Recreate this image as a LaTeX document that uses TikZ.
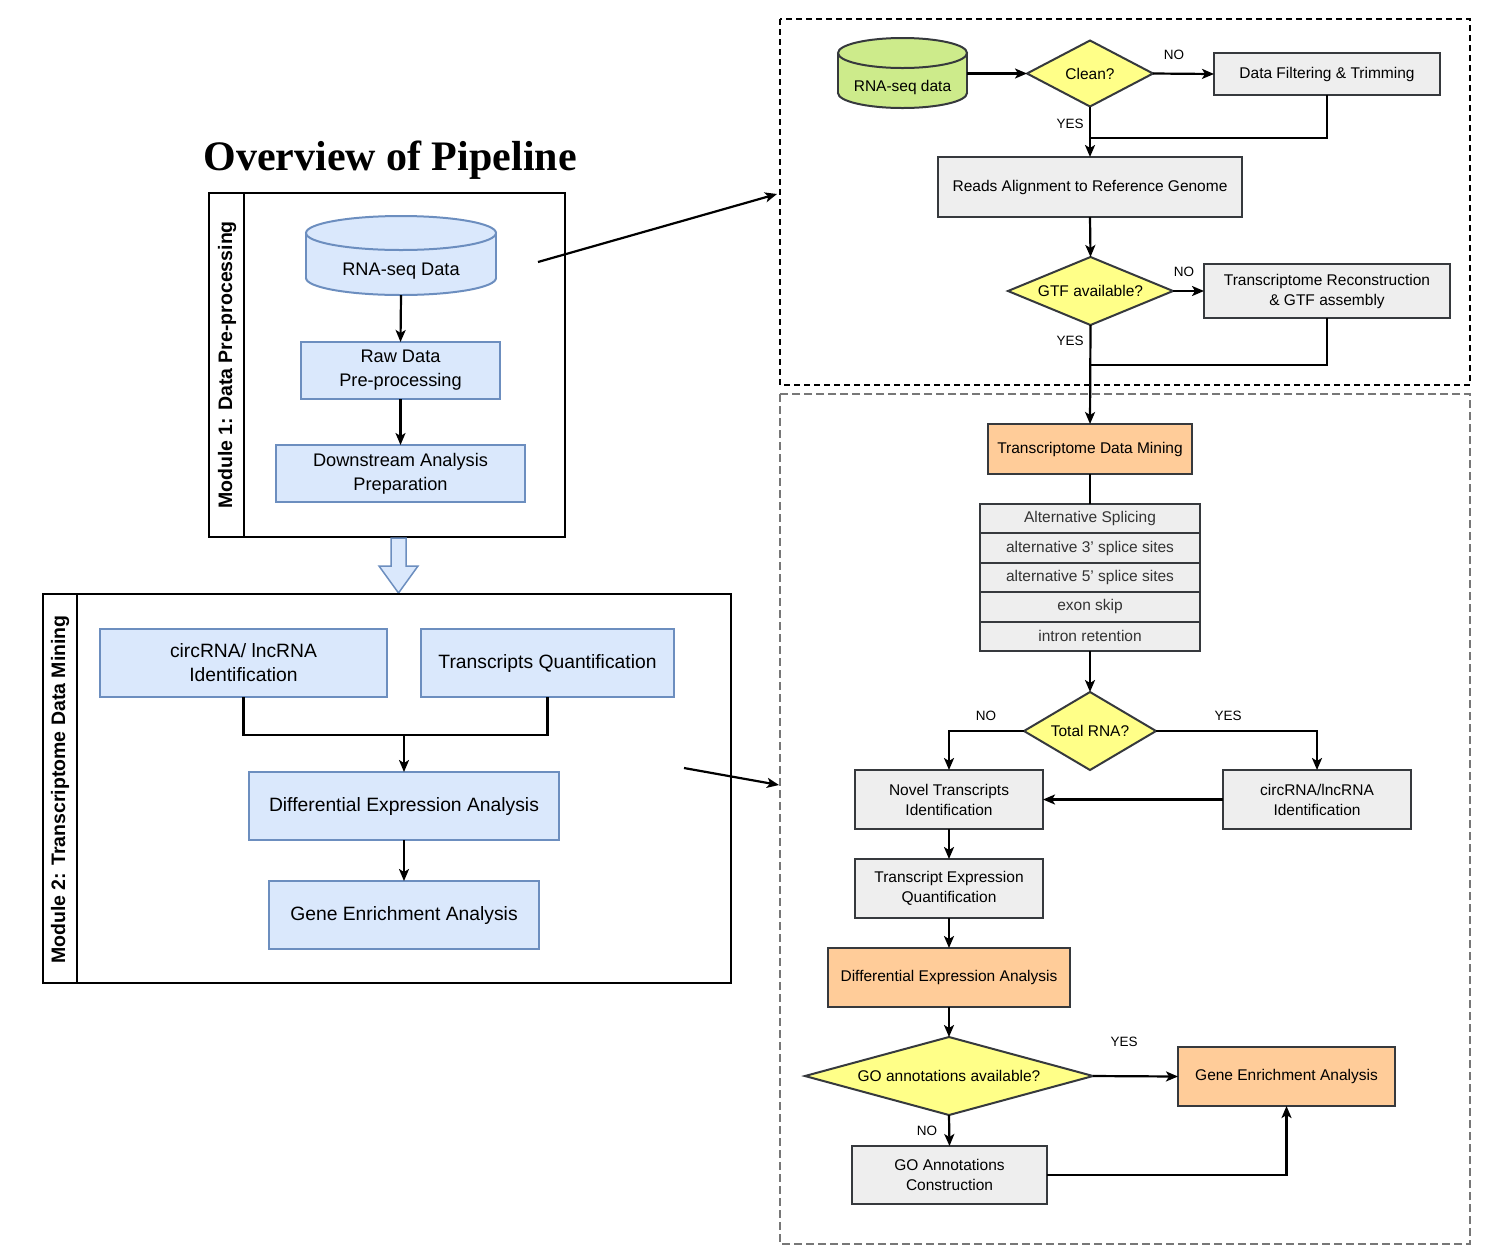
\documentclass[tikz,border=0pt]{standalone}
\usepackage{fontspec}
\setmainfont{Liberation Sans}
\newfontfamily\titlefont{Liberation Serif}
\usetikzlibrary{shapes.geometric,arrows.meta}
\definecolor{bfill}{HTML}{DAE8FC}
\definecolor{bstroke}{HTML}{6C8EBF}
\definecolor{gfill}{HTML}{EEEEEE}
\definecolor{dstroke}{HTML}{36393D}
\definecolor{yfill}{HTML}{FFFF88}
\definecolor{ofill}{HTML}{FFCC99}
\definecolor{grfill}{HTML}{CDEB8B}
\definecolor{txtgray}{HTML}{333333}
\definecolor{dashgray}{HTML}{777777}
\begin{document}
\begin{tikzpicture}[x=1pt,y=-1pt,
  every node/.style={outer sep=0pt, inner sep=2pt, align=center},
  bbox/.style={draw=bstroke, fill=bfill, line width=2pt, font=\fontsize{18.2}{24}\selectfont},
  bboxb/.style={bbox, font=\fontsize{19.3}{24}\selectfont},
  gbox/.style={draw=dstroke, fill=gfill, line width=2pt, font=\fontsize{15.5}{20}\selectfont},
  obox/.style={gbox, fill=ofill},
  tbox/.style={gbox, text=txtgray, minimum width=220pt, minimum height=29.4pt},
  dia/.style={diamond, draw=dstroke, fill=yfill, line width=2pt, font=\fontsize{15.5}{20}\selectfont, inner sep=0pt},
  lbl/.style={font=\fontsize{13.5}{16}\selectfont},
  modlbl/.style={rotate=90, font=\bfseries\fontsize{19.5}{24}\selectfont},
  conn/.style={line width=2.2pt, draw=black},
  arr/.style={conn, -{Stealth[length=12pt,width=10pt,inset=3pt]}},
  cylb/.style={draw=bstroke, fill=bfill, line width=2pt},
  cylg/.style={draw=dstroke, fill=grfill, line width=2pt},
]
\useasboundingbox (0,0) rectangle (1495,1254);
\fill[white] (0,0) rectangle (1495,1254);

% ---------- title ----------
\node[font=\titlefont\bfseries\fontsize{42}{48}\selectfont, anchor=base] (title) at (390,170) {Overview of Pipeline};

% ---------- Module 1 ----------
\node[draw, line width=2.5pt, minimum width=356pt, minimum height=344pt] (m1) at (387,365) {};
\draw[line width=2.5pt] (244,193) -- (244,537);
\node[modlbl] (m1lbl) at (227,365) {Module 1: Data Pre-processing};

% cylinder RNA-seq Data
\filldraw[cylb] (401,278) ellipse [x radius=95pt, y radius=17pt];
\fill[bfill] (306,233) rectangle (496,278);
\draw[bstroke, line width=2pt] (306,233) -- (306,278) (496,233) -- (496,278);
\filldraw[cylb] (401,233) ellipse [x radius=95pt, y radius=17pt];
\node[minimum width=190pt, minimum height=80pt] (cyl1) at (401,255) {};
\node[font=\fontsize{18.2}{24}\selectfont] (cyl1t) at (401,271) {RNA-seq Data};

\node[bbox, minimum width=199pt, minimum height=57pt] (raw) at (400.5,370.5) {Raw Data\\Pre-processing};
\node[bbox, minimum width=249pt, minimum height=57pt] (down) at (400.5,473.5) {Downstream Analysis\\Preparation};
\draw[arr] (cyl1.south) -- (raw.north);
\draw[arr] (raw.south) -- (down.north);

% block arrow
\filldraw[fill=bfill, draw=bstroke, line width=1.5pt] (391,538) -- (406,538) -- (406,566) -- (418,566) -- (398.5,593) -- (379,566) -- (391,566) -- cycle;

% ---------- Module 2 ----------
\node[draw, line width=2.5pt, minimum width=688pt, minimum height=389pt] (m2) at (387,788.5) {};
\draw[line width=2.5pt] (77,594) -- (77,983);
\node[modlbl] (m2lbl) at (60,789.5) {Module 2: Transcriptome Data Mining};

\node[bboxb, minimum width=287pt, minimum height=68pt] (circ) at (243.5,663) {circRNA/ lncRNA\\Identification};
\node[bboxb, minimum width=253pt, minimum height=68pt] (tq) at (547.5,663) {Transcripts Quantification};
\node[bboxb, minimum width=310pt, minimum height=68pt] (diff) at (404,806) {Differential Expression Analysis};
\node[bboxb, minimum width=270pt, minimum height=68pt] (gene) at (404,915) {Gene Enrichment Analysis};
\coordinate (j3) at (404,735);
\draw[conn] (circ.south) |- (j3);
\draw[conn] (tq.south) |- (j3);
\draw[arr] (j3) -- (diff.north);
\draw[arr] (diff.south) -- (gene.north);

% ---------- pointer arrows ----------
\coordinate (p1) at (538,262);
\coordinate (p2) at (777,194);
\coordinate (p3) at (684,768);
\coordinate (p4) at (779,785);
\draw[arr] (p1) -- (p2);
\draw[arr] (p3) -- (p4);

% ---------- dashed frames ----------
\draw[line width=2pt, dash pattern=on 6pt off 4pt] (780,19) rectangle (1470,385);
\draw[dashgray, line width=1.4pt, dash pattern=on 8pt off 4pt] (780,394) rectangle (1470,1244);

% ---------- right top ----------
\filldraw[cylg] (902.5,93) ellipse [x radius=64.5pt, y radius=15pt];
\fill[grfill] (838,53) rectangle (967,93);
\draw[dstroke, line width=2pt] (838,53) -- (838,93) (967,53) -- (967,93);
\filldraw[cylg] (902.5,53) ellipse [x radius=64.5pt, y radius=15pt];
\node[minimum width=129pt, minimum height=69pt] (cyl2) at (902.5,73.5) {};
\node[font=\fontsize{15.5}{20}\selectfont] (cyl2t) at (902.5,87) {RNA-seq data};

\node[dia, aspect=1.9, minimum width=126pt, minimum height=66pt] (clean) at (1090,73.5) {Clean?};
\node[gbox, minimum width=226pt, minimum height=42pt] (filt) at (1327,74) {Data Filtering \& Trimming};
\node[gbox, minimum width=304pt, minimum height=60pt] (reads) at (1090,187) {Reads Alignment to Reference Genome};
\node[dia, aspect=2.43, minimum width=165pt, minimum height=68pt] (gtf) at (1090.5,291) {GTF available?};
\node[gbox, minimum width=246pt, minimum height=54pt] (recon) at (1327,291) {Transcriptome Reconstruction\\\& GTF assembly};

\draw[arr] (cyl2.east) -- (clean.west);
\draw[arr] (clean.east) -- (filt.west);
\node[lbl] (no1) at (1174,55) {NO};
\draw[arr] (clean.south) -- (reads.north);
\node[lbl] (yes1) at (1070,124) {YES};
\coordinate (j1) at (1090,138);
\draw[conn] (filt.south) |- (j1);
\draw[arr] (reads.south) -- (gtf.north);
\draw[arr] (gtf.east) -- (recon.west);
\node[lbl] (no2) at (1184,272) {NO};

% ---------- right bottom ----------
\node[obox, minimum width=204pt, minimum height=50pt] (tdm) at (1090,449) {Transcriptome Data Mining};
\draw[arr] (gtf.south) -- (tdm.north);
\node[lbl] (yes2) at (1070,341) {YES};
\coordinate (j2) at (1090.5,365);
\draw[conn] (recon.south) |- (j2);

\node[tbox] (as1) at (1090,518.7) {Alternative Splicing};
\node[tbox] (as2) at (1090,548.1) {alternative 3' splice sites};
\node[tbox] (as3) at (1090,577.5) {alternative 5' splice sites};
\node[tbox] (as4) at (1090,606.9) {exon skip};
\node[tbox] (as5) at (1090,636.3) {intron retention};
\draw[conn] (tdm.south) -- (as1.north);

\node[dia, aspect=1.69, minimum width=132pt, minimum height=78pt] (total) at (1090,731) {Total RNA?};
\draw[arr] (as5.south) -- (total.north);

\node[gbox, minimum width=188pt, minimum height=59pt] (novel) at (949,799.5) {Novel Transcripts\\Identification};
\node[gbox, minimum width=188pt, minimum height=59pt] (circr) at (1317,799.5) {circRNA/lncRNA\\Identification};
\draw[arr] (total.west) -| (novel.north);
\node[lbl] (no3) at (986,716) {NO};
\draw[arr] (total.east) -| (circr.north);
\node[lbl] (yes3) at (1228,716) {YES};
\draw[arr] (circr.west) -- (novel.east);

\node[gbox, minimum width=188pt, minimum height=59pt] (teq) at (949,888.5) {Transcript Expression\\Quantification};
\node[obox, minimum width=242pt, minimum height=59pt] (deo) at (949,977.5) {Differential Expression Analysis};
\draw[arr] (novel.south) -- (teq.north);
\draw[arr] (teq.south) -- (deo.north);

\node[dia, aspect=3.7, minimum width=288pt, minimum height=78pt] (go) at (949,1076) {GO annotations available?};
\draw[arr] (deo.south) -- (go.north);
\node[obox, minimum width=217pt, minimum height=59pt] (geo) at (1286.5,1076.5) {Gene Enrichment Analysis};
\draw[arr] (go.east) -- (geo.west);
\node[lbl] (yes4) at (1124,1042) {YES};
\node[gbox, minimum width=195pt, minimum height=58pt] (goc) at (949.5,1175) {GO Annotations\\Construction};
\draw[arr] (go.south) -- (goc.north);
\node[lbl] (no4) at (927,1131) {NO};
\draw[arr] (goc.east) -| (geo.south);
\end{tikzpicture}
\end{document}
